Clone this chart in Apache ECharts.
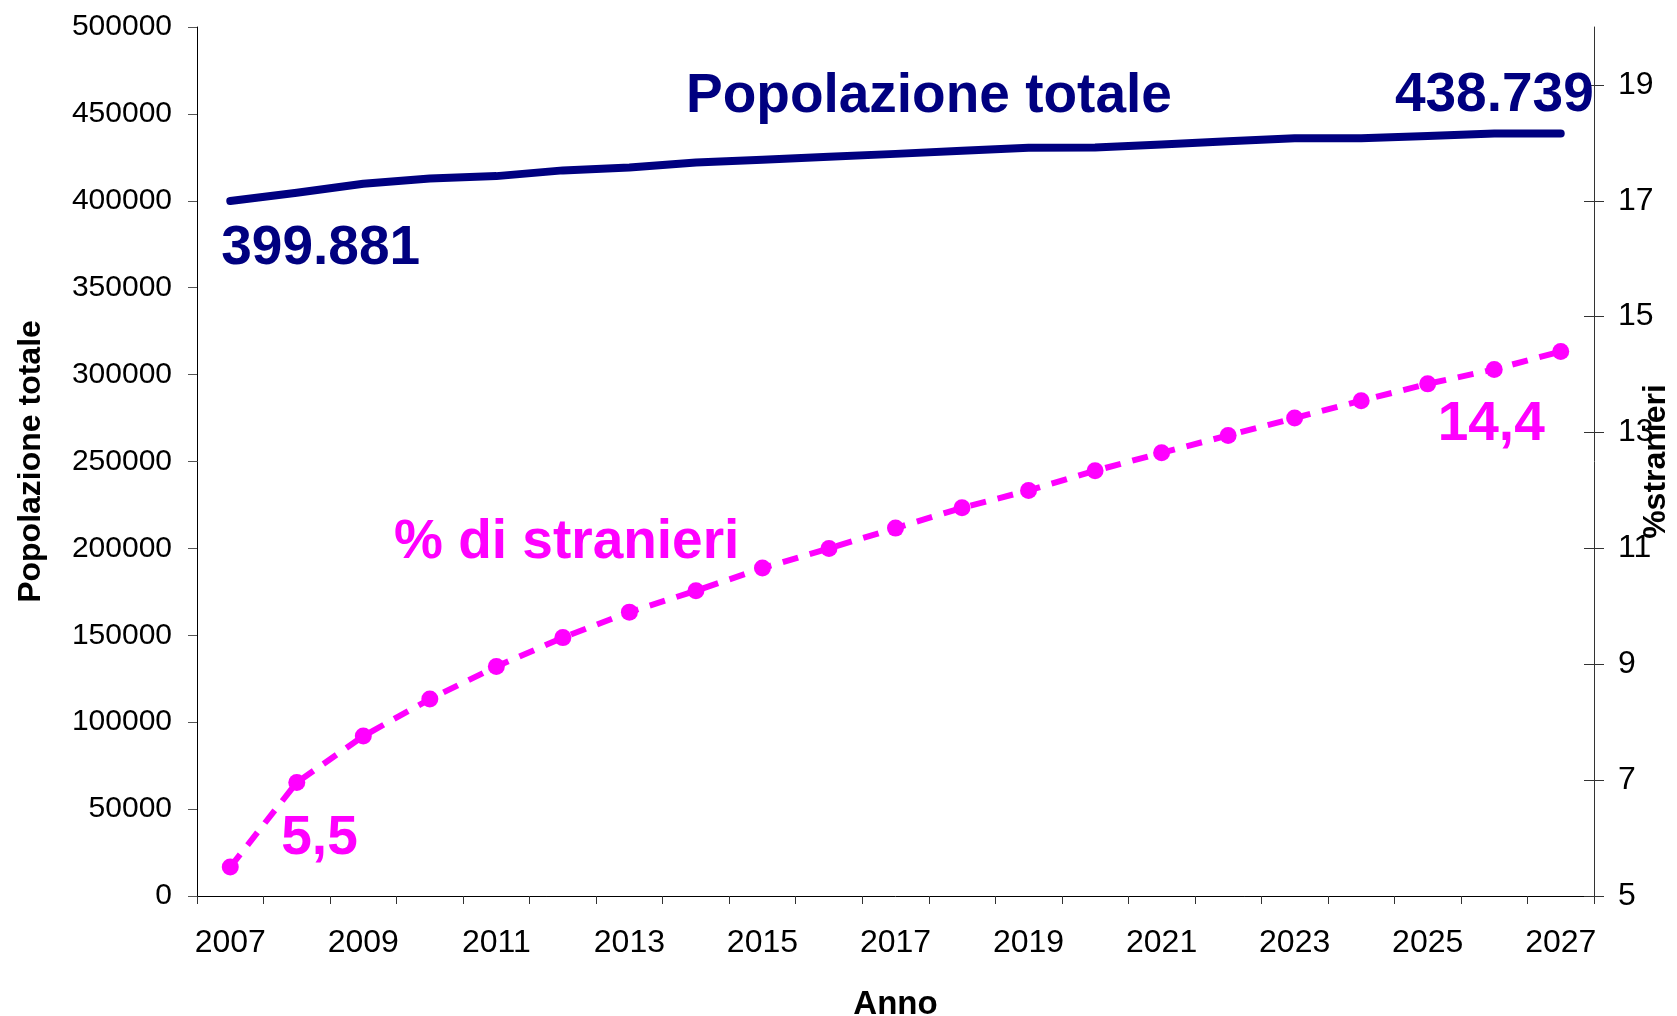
<!DOCTYPE html>
<html><head><meta charset="utf-8">
<script src="https://cdn.jsdelivr.net/npm/echarts@6/dist/echarts.min.js"></script>
<style>html,body{margin:0;padding:0;background:#fff}#c{width:1677px;height:1016px}</style>
</head><body><div id="c"></div>
<script>
// ---- data ----
const years = ['2007','2008','2009','2010','2011','2012','2013','2014','2015','2016','2017',
               '2018','2019','2020','2021','2022','2023','2024','2025','2026','2027'];
const popolazione = [399881, 404600, 409800, 412800, 414200, 417500, 419200, 422100, 423600, 425300, 427000,
                     428800, 430500, 430600, 432400, 434200, 436000, 436000, 437300, 438700, 438739];
const stranieri = [5.5, 6.96, 7.76, 8.40, 8.96, 9.46, 9.90, 10.27, 10.66, 11.00, 11.35,
                   11.70, 12.00, 12.34, 12.65, 12.95, 13.25, 13.55, 13.84, 14.09, 14.4];
const rightTicks = [5, 7, 9, 11, 13, 15, 17, 19];
const leftMin = 0, leftMax = 500000, leftStep = 50000;
const rightMin = 5, rightMax = 20;
const labelPopStart = '399.881', labelPopEnd = '438.739';
const labelStrStart = '5,5', labelStrEnd = '14,4';
const annPop = 'Popolazione totale', annStr = '% di stranieri';
const xName = 'Anno', yLeftName = 'Popolazione totale', yRightName = '%stranieri';

const SANS = "'Liberation Sans', Arial, sans-serif";
const NAVY = '#000080', MAG = '#FF00FF';

const chart = echarts.init(document.getElementById('c'), null, {renderer: 'canvas'});
chart.setOption({
  animation: false,
  backgroundColor: '#fff',
  grid: {left: 197, right: 83, top: 27, bottom: 120, containLabel: false, outerBoundsMode: 'none'},
  xAxis: {
    type: 'category', data: years, boundaryGap: true,
    axisLine: {lineStyle: {color: '#000', width: 1}},
    axisTick: {show: true, interval: 0, length: 8, lineStyle: {color: '#333'}},
    axisLabel: {interval: 1, color: '#000', fontSize: 32, fontFamily: SANS, margin: 31},
    splitLine: {show: false},
    name: xName, nameLocation: 'middle', nameGap: 92, nameMoveOverlap: false,
    nameTextStyle: {fontSize: 33, fontWeight: 'bold', fontFamily: SANS, color: '#000'}
  },
  yAxis: [
    {
      type: 'value', position: 'left', min: leftMin, max: leftMax, interval: leftStep,
      axisLine: {show: true, lineStyle: {color: '#000'}},
      axisTick: {show: true, length: 9, lineStyle: {color: '#555'}},
      axisLabel: {color: '#000', fontSize: 30, fontFamily: SANS, margin: 25,
                  formatter: function (v) { return String(v); }},
      splitLine: {show: false},
      name: yLeftName, nameLocation: 'middle', nameRotate: 90, nameGap: 150, nameMoveOverlap: false,
      nameTextStyle: {fontSize: 32, fontWeight: 'bold', fontFamily: SANS, color: '#000'}
    },
    {
      type: 'value', position: 'right', min: rightMin, max: rightMax,
      axisLine: {show: true, lineStyle: {color: '#333'}},
      axisTick: {show: true, length: 10, customValues: rightTicks, lineStyle: {color: '#333'}},
      axisLabel: {customValues: rightTicks, color: '#000', fontSize: 32, fontFamily: SANS, margin: 24},
      splitLine: {show: false},
      name: yRightName, nameLocation: 'middle', nameRotate: 90, nameGap: 46, nameMoveOverlap: false,
      nameTextStyle: {fontSize: 32, fontWeight: 'bold', fontFamily: SANS, color: '#000'}
    },
    {
      type: 'value', position: 'right', min: rightMin, max: rightMax,
      axisLine: {show: false},
      axisTick: {show: true, inside: true, length: 10, customValues: rightTicks, lineStyle: {color: '#333'}},
      axisLabel: {show: false},
      splitLine: {show: false}
    }
  ],
  series: [
    {
      type: 'line', yAxisIndex: 0, data: popolazione, symbol: 'none',
      lineStyle: {color: NAVY, width: 8, cap: 'round', join: 'round'},
      itemStyle: {color: NAVY}, z: 3
    },
    {
      type: 'line', yAxisIndex: 1, data: stranieri, symbol: 'circle', symbolSize: 17, showSymbol: true,
      itemStyle: {color: MAG},
      lineStyle: {color: MAG, width: 6, type: [16, 12]}, z: 4
    }
  ]
});

function px(seriesIndex, i, arr) {
  return chart.convertToPixel({seriesIndex: seriesIndex}, [years[i], arr[i]]);
}
const last = years.length - 1;
const pA = px(0, 0, popolazione), pB = px(0, last, popolazione);
const sA = px(1, 0, stranieri), sB = px(1, last, stranieri);
const big = {fontSize: 55, fontWeight: 'bold', fontFamily: SANS};
function txt(text, x, y, color, align) {
  return {type: 'text', x: x, y: y, z: 100,
    style: Object.assign({text: text, fill: color, align: align, verticalAlign: 'middle'}, big)};
}
chart.setOption({
  graphic: [
    txt(annPop, 686, 97, NAVY, 'left'),
    txt(labelPopEnd, pB[0] + 33, pB[1] - 38, NAVY, 'right'),
    txt(labelPopStart, pA[0] - 9, pA[1] + 48, NAVY, 'left'),
    txt(annStr, 394, 543, MAG, 'left'),
    txt(labelStrStart, sA[0] + 51, sA[1] - 28, MAG, 'left'),
    txt(labelStrEnd, sB[0] - 16, sB[1] + 73, MAG, 'right')
  ]
});
</script></body></html>
